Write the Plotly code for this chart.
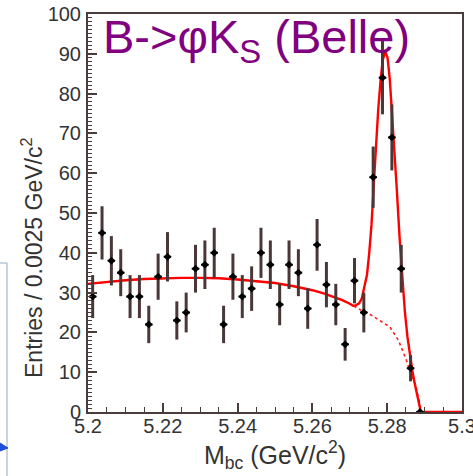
import plotly.graph_objects as go

# ---------------- data ----------------
mass_centers = [5.20125, 5.20375, 5.20625, 5.20875, 5.21125, 5.21375, 5.21625, 5.21875,
                5.22125, 5.22375, 5.22625, 5.22875, 5.23125, 5.23375, 5.23625, 5.23875,
                5.24125, 5.24375, 5.24625, 5.24875, 5.25125, 5.25375, 5.25625, 5.25875,
                5.26125, 5.26375, 5.26625, 5.26875, 5.27125, 5.27375, 5.27625, 5.27875,
                5.28125, 5.28375, 5.28625, 5.28875]
entries = [29, 45, 38, 35, 29, 29, 22, 34, 39, 23, 25, 36, 37, 40, 22, 34,
           29, 31, 40, 37, 27, 37, 35, 26, 42, 32, 27, 17, 33, 25, 59, 84,
           69, 36, 11, 0]
entry_errors = [5.4, 6.7, 6.2, 5.9, 5.4, 5.4, 4.7, 5.8, 6.2, 4.8, 5.0, 6.0, 6.1, 6.3, 4.7, 5.8,
                5.4, 5.6, 6.3, 6.1, 5.2, 6.1, 5.9, 5.1, 6.5, 5.7, 5.2, 4.1, 5.7, 5.0, 7.7, 9.2,
                8.3, 6.0, 3.3, 0.0]
bin_half_width = [0.001] * len(mass_centers)

# total fit curve (signal + background)
fit_mass = [5.2000, 5.2050, 5.2100, 5.2150, 5.2200, 5.2250, 5.2300, 5.2350, 5.2400, 5.2450,
            5.2500, 5.2550, 5.2600, 5.2630, 5.2660, 5.2680, 5.2700, 5.2709, 5.2716, 5.2725,
            5.2732, 5.2740, 5.2746, 5.2752, 5.2758, 5.2764, 5.2770, 5.2776, 5.2782, 5.2788,
            5.2795, 5.2801, 5.2807, 5.2813, 5.2819, 5.2826, 5.2833, 5.2840, 5.2847, 5.2854,
            5.2861, 5.2867, 5.2874, 5.2881, 5.2886, 5.2890, 5.3000]
fit_total = [32.2, 32.7, 33.1, 33.4, 33.6, 33.7, 33.7, 33.6, 33.3, 32.9,
             32.4, 31.6, 30.6, 29.8, 28.8, 28.1, 27.2, 26.7, 26.8, 27.3,
             28.5, 31.5, 34.5, 40.0, 47.0, 57.0, 67.0, 76.0, 83.0, 88.5,
             90.5, 89.0, 83.5, 75.5, 66.0, 55.5, 44.0, 34.0, 25.5, 19.0,
             14.0, 10.5, 7.0, 3.8, 1.5, 0.0, 0.0]

# background component (dotted)
bkg_mass = [5.2000, 5.2050, 5.2100, 5.2150, 5.2200, 5.2250, 5.2300, 5.2350, 5.2400, 5.2450,
            5.2500, 5.2550, 5.2600, 5.2630, 5.2660, 5.2680, 5.2700, 5.2710, 5.2720, 5.2730,
            5.2741, 5.2750, 5.2760, 5.2770, 5.2781, 5.2790, 5.2800, 5.2808, 5.2815, 5.2822,
            5.2830, 5.2837, 5.2844, 5.2852, 5.2860, 5.2868, 5.2875, 5.2882, 5.2887, 5.2890]
bkg_val = [32.2, 32.7, 33.1, 33.4, 33.6, 33.7, 33.7, 33.6, 33.3, 32.9,
           32.4, 31.6, 30.6, 29.8, 28.8, 28.1, 27.2, 26.6, 26.1, 25.6,
           25.2, 24.8, 24.2, 23.6, 23.0, 22.4, 21.8, 21.2, 20.3, 19.2,
           18.0, 16.5, 14.8, 12.8, 10.6, 8.2, 7.0, 4.5, 2.3, 0.0]

x_tick_vals = [5.2, 5.22, 5.24, 5.26, 5.28, 5.3]
x_tick_text = ["5.2", "5.22", "5.24", "5.26", "5.28", "5.3"]
y_tick_vals = [0, 10, 20, 30, 40, 50, 60, 70, 80, 90, 100]

# ---------------- figure ----------------
W, H = 473, 476
ML, MR, MT, MB = 88, 11, 14, 64
PW, PH = W - ML - MR, H - MT - MB


def px2paper(px, py):
    return (px - ML) / PW, (H - MB - py) / PH


fig = go.Figure()

fig.add_trace(go.Scatter(
    x=bkg_mass, y=bkg_val, mode="lines",
    line=dict(color="#ff2020", width=1.6, dash="dot"),
    hoverinfo="skip", showlegend=False))

fig.add_trace(go.Scatter(
    x=fit_mass, y=fit_total, mode="lines",
    line=dict(color="#ff0000", width=2.4),
    hoverinfo="skip", showlegend=False))

fig.add_trace(go.Scatter(
    x=mass_centers, y=entries, mode="markers",
    marker=dict(color="#000000", size=6, symbol="diamond"),
    error_y=dict(type="data", array=entry_errors, visible=True,
                 color="#4a3838", thickness=3, width=0),
    error_x=dict(type="data", array=bin_half_width, visible=True,
                 color="#000000", thickness=2, width=0),
    showlegend=False))

axis_col = "#4a3c3c"
text_col = "#333333"
font_fam = "Liberation Sans, Arial, sans-serif"

fig.update_xaxes(
    range=[5.2, 5.3], showline=True, linecolor=axis_col, linewidth=2, mirror=True,
    tickvals=x_tick_vals, ticktext=x_tick_text, ticks="inside", ticklen=9,
    tickcolor=axis_col, tickwidth=1.5,
    tickfont=dict(family=font_fam, size=20, color=text_col),
    ticklabelstandoff=-5, ticklabeloverflow="allow",
    automargin=False,
    minor=dict(dtick=0.005, tick0=5.2, ticks="inside", ticklen=5,
               tickcolor=axis_col, tickwidth=1.2),
    showgrid=False, zeroline=False)

fig.update_yaxes(
    range=[0, 100], showline=True, linecolor=axis_col, linewidth=2, mirror=True,
    tickvals=y_tick_vals, ticks="inside", ticklen=9,
    tickcolor=axis_col, tickwidth=1.5,
    tickfont=dict(family=font_fam, size=20, color=text_col),
    ticklabelstandoff=1, ticklabeloverflow="allow",
    automargin=False,
    minor=dict(dtick=1, tick0=0, ticks="inside", ticklen=4,
               tickcolor=axis_col, tickwidth=1),
    showgrid=False, zeroline=False)

tx, ty = px2paper(101, 40)
yx, yy = px2paper(32, 258)
xx, xy = px2paper(275, 455)
fig.add_annotation(x=tx, y=ty, xref="paper", yref="paper", xanchor="left", yanchor="middle",
                   text="B->φK<sub>S</sub> (Belle)", showarrow=False,
                   font=dict(family=font_fam, size=47, color="#800080"))
fig.add_annotation(x=yx, y=yy, xref="paper", yref="paper", xanchor="center", yanchor="middle",
                   text="Entries / 0.0025 GeV/c<sup>2</sup>", textangle=-90, showarrow=False,
                   font=dict(family=font_fam, size=23, color=text_col))
fig.add_annotation(x=xx, y=xy, xref="paper", yref="paper", xanchor="center", yanchor="middle",
                   text="M<sub>bc</sub> (GeV/c<sup>2</sup>)", showarrow=False,
                   font=dict(family=font_fam, size=25, color=text_col))

# slide fragment at the lower left edge
bx0, by0 = px2paper(0, 263)
bx1, by1 = px2paper(7, 476)
fig.add_shape(type="line", xref="paper", yref="paper", x0=bx0, y0=by0, x1=bx1, y1=by0,
              line=dict(color="#b8c6d6", width=1.5))
fig.add_shape(type="line", xref="paper", yref="paper", x0=bx1, y0=by0, x1=bx1, y1=by1,
              line=dict(color="#b8c6d6", width=1.5))
ax0, ay0 = px2paper(0, 443)
ax1, ay1 = px2paper(8, 448)
ax2, ay2 = px2paper(0, 451)
fig.add_shape(type="path", xref="paper", yref="paper",
              path=f"M {ax0} {ay0} L {ax1} {ay1} L {ax2} {ay2} Z",
              fillcolor="#1f4fd8", line=dict(color="#1f4fd8", width=1))

fig.update_layout(
    width=W, height=H, margin=dict(l=ML, r=MR, t=MT, b=MB),
    paper_bgcolor="white", plot_bgcolor="white", showlegend=False)

fig.write_html("out.html", config={"displayModeBar": False},
               post_script="document.body.style.margin='0px';document.body.style.overflow='hidden';")
